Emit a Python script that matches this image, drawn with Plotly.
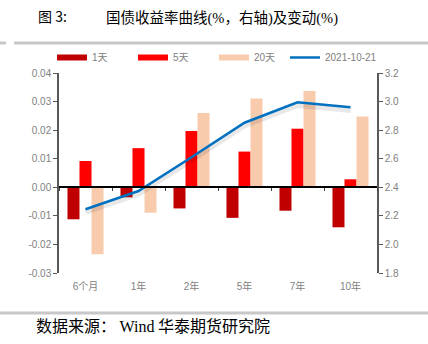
import plotly.graph_objects as go

categories = ["6个月", "1年", "2年", "5年", "7年", "10年"]
chg_1d = [-0.0112, -0.0035, -0.0074, -0.0107, -0.0082, -0.0140]
chg_5d = [0.0092, 0.0137, 0.0197, 0.0125, 0.0205, 0.0028]
chg_20d = [-0.0234, -0.0089, 0.0260, 0.0311, 0.0337, 0.0248]
yield_curve = [2.246, 2.374, 2.61, 2.852, 2.995, 2.96]

left_ticks = [-0.03, -0.02, -0.01, 0.0, 0.01, 0.02, 0.03, 0.04]
left_ticktext = ["-0.03", "-0.02", "-0.01", "0.00", "0.01", "0.02", "0.03", "0.04"]
right_ticks = [1.8, 2.0, 2.2, 2.4, 2.6, 2.8, 3.0, 3.2]
right_ticktext = ["1.8", "2.0", "2.2", "2.4", "2.6", "2.8", "3.0", "3.2"]

series_names = ["1天", "5天", "20天"]
series_colors = ["#C00000", "#FF0000", "#F8CBAD"]
line_name = "2021-10-21"
line_color = "#0070C0"

FONT = "Liberation Sans, Arial, Noto Sans CJK SC"
CJK = "Noto Sans CJK SC"
SERIF = "Liberation Serif"

# plot-area geometry (px) used to place decorations in paper coordinates
PL, PR, PT, PB = 59, 377, 73, 273
PW, PH = PR - PL, PB - PT


def px_x(x):
    return (x - PL) / PW


def px_y(y):
    return (PB - y) / PH


fig = go.Figure()

for name, vals, col in zip(series_names, [chg_1d, chg_5d, chg_20d], series_colors):
    fig.add_trace(go.Bar(x=categories, y=vals, name=name, marker_color=col,
                         marker_line_width=0, showlegend=False, yaxis="y"))

# soft shadow under the curve
fig.add_trace(go.Scatter(x=categories, y=[v - 0.022 for v in yield_curve], mode="lines",
                         line=dict(color="rgba(0,0,0,0.09)", width=5),
                         showlegend=False, hoverinfo="skip", yaxis="y2"))
fig.add_trace(go.Scatter(x=categories, y=yield_curve, mode="lines", name=line_name,
                         line=dict(color=line_color, width=2.5), showlegend=False, yaxis="y2"))

# carrier for the zero-line category axis
fig.add_trace(go.Scatter(x=categories, y=[None] * len(categories), xaxis="x2", yaxis="y",
                         showlegend=False, hoverinfo="skip", mode="lines"))

# legend entries
for name, col in zip(series_names, series_colors):
    fig.add_trace(go.Scatter(x=[None], y=[None], mode="lines", name=name,
                             line=dict(color=col, width=6), yaxis="y", legend="legend"))
fig.add_trace(go.Scatter(x=[None], y=[None], mode="lines", name=line_name,
                         line=dict(color=line_color, width=2.5), yaxis="y2", legend="legend2"))

axis_col = "#595959"
tick_font = dict(family=FONT, size=10, color="#7F7F7F")
leg_font = dict(family=FONT, size=10, color="#808080")

fig.update_layout(
    width=428, height=344,
    margin=dict(l=PL, r=428 - PR, t=PT, b=344 - PB),
    paper_bgcolor="white", plot_bgcolor="white",
    barmode="group", bargap=0.32, bargroupgap=0,
    showlegend=True,
    legend=dict(orientation="h", x=px_x(52), xanchor="left", y=px_y(57.5), yanchor="middle",
                font=leg_font, entrywidth=36, entrywidthmode="pixels", traceorder="normal",
                bgcolor="rgba(0,0,0,0)", itemwidth=30),
    legend2=dict(orientation="h", x=px_x(285), xanchor="left", y=px_y(57.5), yanchor="middle",
                 font=leg_font, bgcolor="rgba(0,0,0,0)", itemwidth=30),
    xaxis=dict(type="category", showline=False, ticks="", showgrid=False,
               tickfont=tick_font, ticklabelstandoff=6, range=[-0.5, 5.5]),
    xaxis2=dict(type="category", overlaying="x", anchor="free", position=3 / 7,
                showline=True, linecolor="black", linewidth=1.5,
                ticks="outside", ticklen=3, tickwidth=1, tickcolor="#404040",
                tickson="boundaries", showticklabels=False, showgrid=False,
                range=[-0.5, 5.5], matches="x"),
    yaxis=dict(range=[-0.03, 0.04], tickvals=left_ticks, ticktext=left_ticktext,
               showgrid=False, zeroline=False, showline=True, linecolor=axis_col,
               linewidth=1.5, ticks="outside", ticklen=4, tickcolor=axis_col,
               tickfont=tick_font),
    yaxis2=dict(range=[1.8, 3.2], tickvals=right_ticks, ticktext=right_ticktext,
                overlaying="y", side="right", showgrid=False, zeroline=False,
                showline=True, linecolor=axis_col, linewidth=1.5, ticks="outside",
                ticklen=4, tickcolor=axis_col, tickfont=tick_font),
)

# title (two parts, as in the original layout)
fig.add_annotation(text="图 3:", xref="paper", yref="paper", x=px_x(36), xanchor="left",
                   y=px_y(16), yanchor="middle", showarrow=False,
                   font=dict(family=CJK, size=14, color="#000000"))
fig.add_annotation(
    text=("国债收益率曲线<span style='font-family:Liberation Serif'>(%</span>，右轴"
          "<span style='font-family:Liberation Serif'>)</span>及变动"
          "<span style='font-family:Liberation Serif'>(%)</span>"),
    xref="paper", yref="paper", x=px_x(104), xanchor="left", y=px_y(16), yanchor="middle",
    showarrow=False, font=dict(family=CJK, size=14.5, color="#000000"))

# decorative separator lines
fig.add_shape(type="line", xref="paper", yref="paper", x0=px_x(0), x1=px_x(6),
              y0=px_y(43), y1=px_y(43), line=dict(color="#C8C8C8", width=3))
fig.add_shape(type="line", xref="paper", yref="paper", x0=px_x(14), x1=px_x(428),
              y0=px_y(43), y1=px_y(43), line=dict(color="#C8C8C8", width=3))
fig.add_shape(type="line", xref="paper", yref="paper", x0=px_x(0), x1=px_x(428),
              y0=px_y(313), y1=px_y(313), line=dict(color="#C8C8C8", width=3))

fig.add_annotation(
    text="数据来源： <span style='font-family:Liberation Serif'>Wind</span> 华泰期货研究院",
    xref="paper", yref="paper", x=px_x(34), xanchor="left", y=px_y(325), yanchor="middle",
    showarrow=False, font=dict(family=CJK, size=16, color="#000000"))

fig.write_html("out.html")
